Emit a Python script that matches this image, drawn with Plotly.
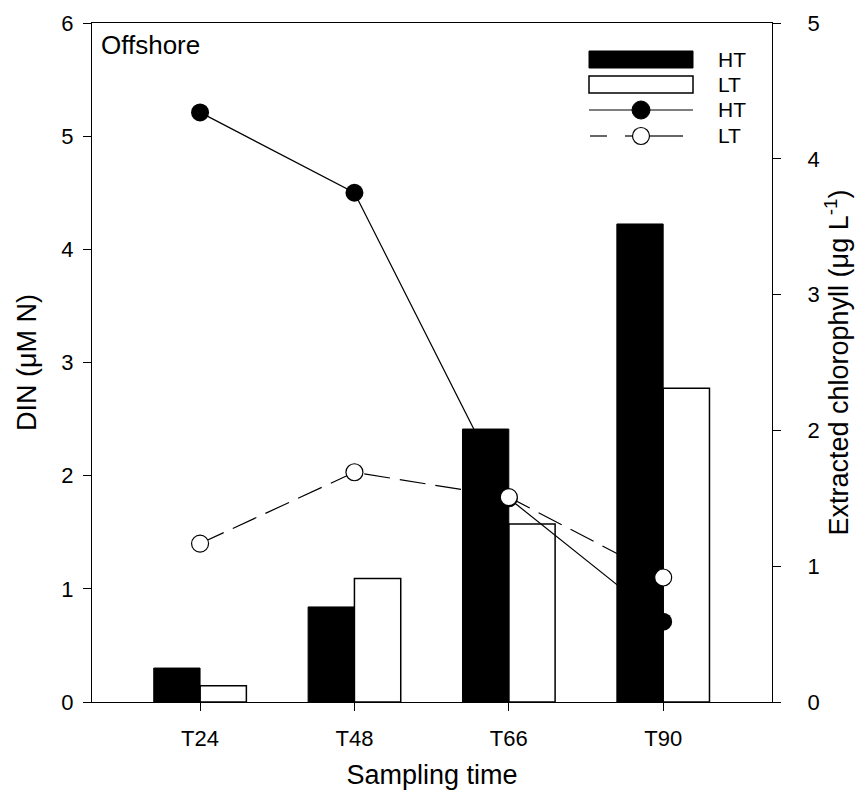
import plotly.graph_objects as go

# Sampling times
categories = ["T24", "T48", "T66", "T90"]

# Extracted chlorophyll (µg L-1), bars on the right axis
chl_ht = [0.25, 0.70, 2.01, 3.52]
chl_lt = [0.12, 0.91, 1.31, 2.31]

# DIN (µM N), lines on the left axis
din_ht = [5.21, 4.50, 1.80, 0.71]
din_lt = [1.40, 2.03, 1.81, 1.10]

FONT = "Liberation Sans, Arial, sans-serif"
W, H = 857, 797
L, R, T, B = 92, 85, 23, 95
PW, PH = W - L - R, H - T - B


def px(x):
    return (x - L) / PW


def py(y):
    return (H - B - y) / PH


fig = go.Figure()

# DIN lines (drawn first so the black bars cover them)
fig.add_trace(go.Scatter(x=categories, y=din_ht, mode="lines",
                         line=dict(color="black", width=1.2),
                         yaxis="y", showlegend=False, hoverinfo="skip"))
fig.add_trace(go.Scatter(x=categories, y=din_lt, mode="lines",
                         line=dict(color="black", width=1.2, dash="26px,10px"),
                         yaxis="y", showlegend=False, hoverinfo="skip"))

# Chlorophyll bars
bw = 0.30
fig.add_trace(go.Bar(x=categories, y=chl_ht, width=bw, offset=-bw,
                     marker=dict(color="black", line=dict(color="black", width=1)),
                     yaxis="y2", showlegend=False))
fig.add_trace(go.Bar(x=categories, y=chl_lt, width=bw, offset=0,
                     marker=dict(color="rgba(255,255,255,0)",
                                 line=dict(color="black", width=1.5)),
                     yaxis="y2", showlegend=False))

# DIN markers on top
fig.add_trace(go.Scatter(x=categories, y=din_ht, mode="markers",
                         marker=dict(symbol="circle", size=18, color="black",
                                     line=dict(color="black", width=0)),
                         yaxis="y3", showlegend=False))
fig.add_trace(go.Scatter(x=categories, y=din_lt, mode="markers",
                         marker=dict(symbol="circle", size=17, color="white",
                                     line=dict(color="black", width=1.2)),
                         yaxis="y3", showlegend=False))

axis_common = dict(showline=True, linecolor="black", linewidth=1,
                   ticks="outside", ticklen=8, tickwidth=1, tickcolor="black",
                   showgrid=False, zeroline=False, automargin=False,
                   tickfont=dict(family=FONT, size=22, color="black"))

fig.update_layout(
    width=W, height=H,
    margin=dict(l=L, r=R, t=T, b=B, pad=0, autoexpand=False),
    paper_bgcolor="white", plot_bgcolor="white",
    barmode="overlay",
    xaxis=dict(type="category", range=[-0.70, 3.705], mirror=True,
               ticklabelstandoff=9,
               title=dict(text="Sampling time", standoff=14,
                          font=dict(family=FONT, size=27, color="black")),
               **axis_common),
    yaxis=dict(range=[0, 6], dtick=1, ticklabelstandoff=5,
               title=dict(text="DIN (μM N)", standoff=16,
                          font=dict(family=FONT, size=27, color="black")),
               **axis_common),
    yaxis2=dict(range=[0, 5], dtick=1, overlaying="y", side="right",
                ticklabelstandoff=22,
                title=dict(text="Extracted chlorophyll (μg L<sup>-1</sup>)", standoff=10,
                           font=dict(family=FONT, size=27, color="black")),
                **axis_common),
    yaxis3=dict(range=[0, 6], overlaying="y", visible=False),
    showlegend=False,
)

# Panel label
fig.add_annotation(text="Offshore", x=px(99), y=py(45), xref="paper", yref="paper",
                   xanchor="left", yanchor="middle", showarrow=False,
                   font=dict(family=FONT, size=26, color="black"))

# Legend key
shapes = []
kx0, kx1 = 589, 693
kc = (kx0 + kx1) / 2
shapes.append(dict(type="rect", xref="paper", yref="paper",
                   x0=px(kx0), x1=px(kx1), y0=py(68), y1=py(51),
                   fillcolor="black", line=dict(color="black", width=1)))
shapes.append(dict(type="rect", xref="paper", yref="paper",
                   x0=px(kx0), x1=px(kx1), y0=py(93), y1=py(76),
                   fillcolor="white", line=dict(color="black", width=1.5)))
shapes.append(dict(type="line", xref="paper", yref="paper",
                   x0=px(kx0), x1=px(kx1), y0=py(110), y1=py(110),
                   line=dict(color="black", width=1.2)))
shapes.append(dict(type="circle", xref="paper", yref="paper",
                   x0=px(kc - 9), x1=px(kc + 9), y0=py(119), y1=py(101),
                   fillcolor="black", line=dict(color="black", width=1)))
for a, b in [(590, 607), (625, 636), (649, 658), (658, 683)]:
    shapes.append(dict(type="line", xref="paper", yref="paper",
                       x0=px(a), x1=px(b), y0=py(136), y1=py(136),
                       line=dict(color="black", width=1.2)))
shapes.append(dict(type="circle", xref="paper", yref="paper",
                   x0=px(kc - 8.5), x1=px(kc + 8.5), y0=py(144.5), y1=py(127.5),
                   fillcolor="white", line=dict(color="black", width=1.2)))
fig.update_layout(shapes=shapes)

for label, yy in [("HT", 59.5), ("LT", 84.5), ("HT", 110), ("LT", 135)]:
    fig.add_annotation(text=label, x=px(716), y=py(yy), xref="paper", yref="paper",
                       xanchor="left", yanchor="middle", showarrow=False,
                       font=dict(family=FONT, size=21, color="black"))

fig.write_html("out.html")
